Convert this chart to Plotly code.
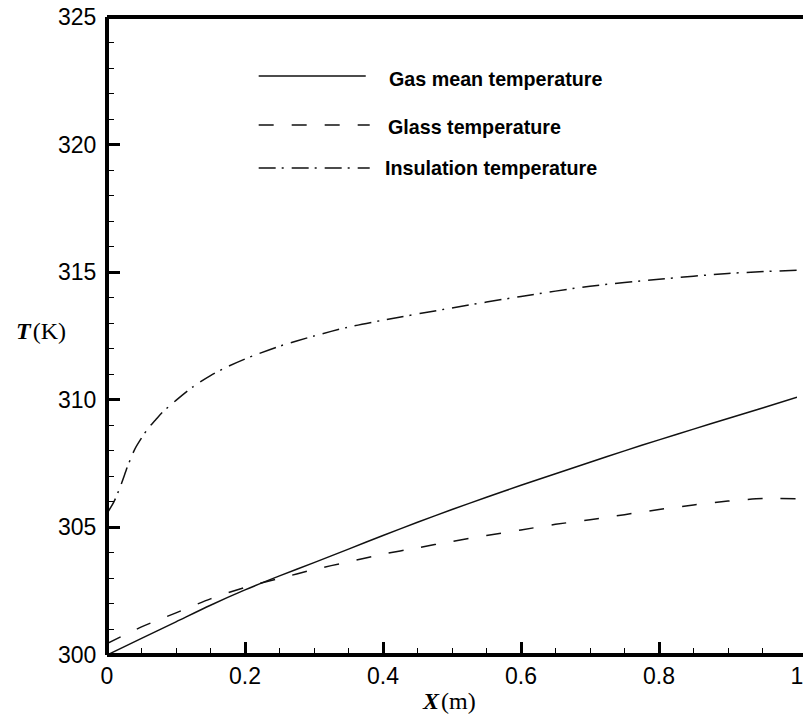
import plotly.graph_objects as go

# Axial position along the collector (m) and temperatures (K)
x_gas = [0, 0.05, 0.1, 0.15, 0.2, 0.25, 0.3, 0.35, 0.4, 0.45, 0.5, 0.55, 0.6,
         0.65, 0.7, 0.75, 0.8, 0.85, 0.9, 0.95, 1.0]
t_gas = [300.0, 300.65, 301.3, 301.95, 302.55, 303.1, 303.62, 304.15, 304.68,
         305.2, 305.7, 306.18, 306.65, 307.1, 307.55, 308.0, 308.43, 308.85,
         309.27, 309.68, 310.1]

x_glass = [0, 0.05, 0.1, 0.15, 0.2, 0.25, 0.3, 0.35, 0.4, 0.45, 0.5, 0.55, 0.6,
           0.65, 0.7, 0.75, 0.8, 0.85, 0.9, 0.95, 1.0]
t_glass = [300.45, 301.1, 301.65, 302.2, 302.65, 303.0, 303.35, 303.65, 303.95,
           304.2, 304.45, 304.68, 304.9, 305.12, 305.3, 305.5, 305.7, 305.88,
           306.03, 306.13, 306.12]

x_ins = [0, 0.01, 0.02, 0.03, 0.04, 0.05, 0.06, 0.07, 0.08, 0.1, 0.125, 0.15,
         0.175, 0.2, 0.25, 0.3, 0.35, 0.4, 0.5, 0.6, 0.7, 0.8, 0.9, 1.0]
t_ins = [305.55, 306.0, 306.65, 307.4, 308.05, 308.5, 308.9, 309.2, 309.5,
         309.98, 310.52, 310.95, 311.3, 311.6, 312.1, 312.5, 312.85, 313.12, 313.6,
         314.05, 314.45, 314.72, 314.95, 315.08]

series_names = ["Gas mean temperature", "Glass temperature", "Insulation temperature"]
x_ticks = [0, 0.2, 0.4, 0.6, 0.8, 1]
x_ticklabels = ["0", "0.2", "0.4", "0.6", "0.8", "1"]
y_ticks = [300, 305, 310, 315, 320, 325]
y_ticklabels = ["300", "305", "310", "315", "320", "325"]

W, H = 803, 717
ML, MR, MT, MB = 107, 0, 17, 62
PW, PH = W - ML - MR, H - MT - MB

DASH_GLASS = "15px,18px"
DASH_INS = "17px,6px,2px,8px"
LINE_COL = "#111111"


def px_x(p):
    return (p - ML) / PW


def px_y(p):
    return (H - MB - p) / PH


fig = go.Figure()
fig.add_trace(go.Scatter(x=x_gas, y=t_gas, mode="lines", name=series_names[0],
                         line=dict(color=LINE_COL, width=1.5, shape="spline",
                                   smoothing=0.8)))
fig.add_trace(go.Scatter(x=x_glass, y=t_glass, mode="lines", name=series_names[1],
                         line=dict(color=LINE_COL, width=1.5, dash=DASH_GLASS,
                                   shape="spline", smoothing=0.8)))
fig.add_trace(go.Scatter(x=x_ins, y=t_ins, mode="lines", name=series_names[2],
                         line=dict(color=LINE_COL, width=1.5, dash=DASH_INS,
                                   shape="spline", smoothing=0.8)))

tick_font = dict(family="Liberation Sans, Arial, sans-serif", size=23, color="black")

fig.update_xaxes(range=[0, 1], showline=False, showgrid=False, zeroline=False,
                 tickmode="array", tickvals=x_ticks, ticktext=x_ticklabels,
                 ticks="inside", ticklen=13, tickwidth=3, tickcolor="black",
                 tickfont=tick_font, ticklabeloverflow="allow", ticklabelstandoff=5,
                 minor=dict(dtick=0.05, tick0=0, ticks="inside", ticklen=7,
                            tickwidth=1, tickcolor="black", showgrid=False))
fig.update_yaxes(range=[300, 325], showline=False, showgrid=False, zeroline=False,
                 tickmode="array", tickvals=y_ticks, showticklabels=False,
                 ticks="inside", ticklen=13, tickwidth=3, tickcolor="black",
                 minor=dict(dtick=1, tick0=300, ticks="inside", ticklen=7,
                            tickwidth=1, tickcolor="black", showgrid=False))

shapes = []
# Frame: left, bottom and top edges
for (x0, y0, x1, y1) in [(0, 0, 0, 1), (0, 0, 1.01, 0), (0, 1, 1.01, 1)]:
    shapes.append(dict(type="line", xref="paper", yref="paper", x0=x0, y0=y0,
                       x1=x1, y1=y1, line=dict(color="black", width=4), layer="above"))

annotations = []
# Temperature labels set a little away from the thick left edge
for v, lab in zip(y_ticks, y_ticklabels):
    annotations.append(dict(xref="paper", yref="y", x=px_x(98), y=v,
                            xanchor="right", yanchor="middle", showarrow=False,
                            text=lab, font=tick_font))

# Hand-placed key inside the plot
key = [
    (series_names[0], "solid", 76, 389, 79),
    (series_names[1], DASH_GLASS, 125, 388, 127),
    (series_names[2], DASH_INS, 168, 385, 168),
]
for name, dash, ly, tx, ty in key:
    shapes.append(dict(type="line", xref="paper", yref="paper",
                       x0=px_x(260), x1=px_x(372 if dash != "solid" else 368),
                       y0=px_y(ly), y1=px_y(ly),
                       line=dict(color=LINE_COL, width=1.5, dash=dash)))
    annotations.append(dict(xref="paper", yref="paper", x=px_x(tx), y=px_y(ty),
                            xanchor="left", yanchor="middle", showarrow=False,
                            text="<b>%s</b>" % name,
                            font=dict(family="Liberation Sans, Arial, sans-serif",
                                      size=19.7, color="black")))

serif = dict(family="Liberation Serif, Times New Roman, serif", size=24, color="black")
annotations.append(dict(xref="paper", yref="paper", x=px_x(40), y=px_y(331),
                        xanchor="center", yanchor="middle", showarrow=False,
                        text="<b><i>T</i></b>\u200a(K)", font=serif))
annotations.append(dict(xref="paper", yref="paper", x=px_x(452), y=px_y(701),
                        xanchor="center", yanchor="middle", showarrow=False,
                        text="<b><i>X</i></b>\u200a(m)", font=serif))

fig.update_layout(width=W, height=H, margin=dict(l=ML, r=MR, t=MT, b=MB),
                  paper_bgcolor="white", plot_bgcolor="white", showlegend=False,
                  shapes=shapes, annotations=annotations)

fig.write_html("out.html")
